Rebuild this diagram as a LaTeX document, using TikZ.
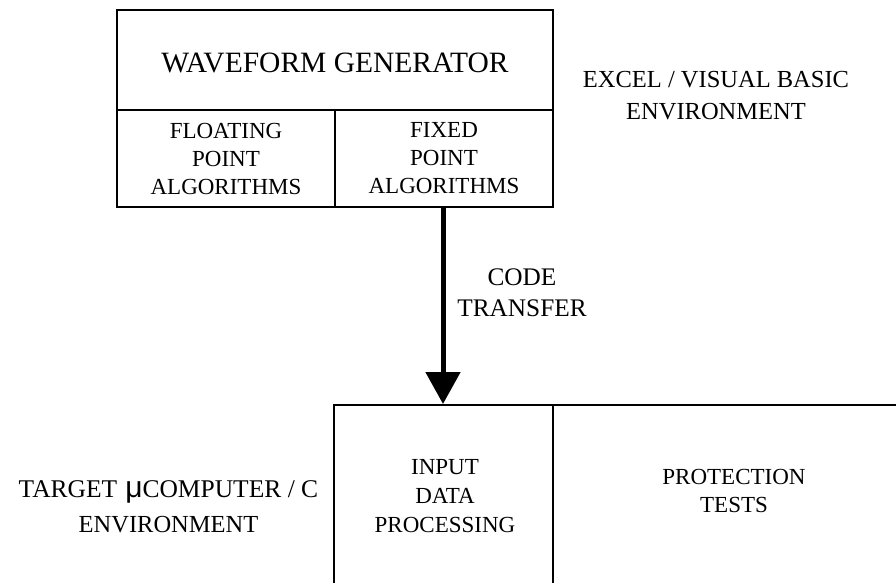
\documentclass[tikz,border=0pt]{standalone}
\usepackage{fontspec}
\setmainfont{Liberation Serif}
\newfontfamily\mufont{Liberation Sans}
\usetikzlibrary{arrows.meta}
\begin{document}
\begin{tikzpicture}[x=1pt,y=-1pt,
  box/.style={draw, line width=2pt, inner sep=0pt, rectangle},
  txt/.style={align=center, inner sep=0pt},
  small/.style={txt, font=\fontsize{23}{28}\selectfont},
]
\useasboundingbox (0,0) rectangle (896,583);
\clip (0,0) rectangle (896,583);

% upper block: generator with its two algorithm cells
\node[box, minimum width=436pt, minimum height=100pt] (gen) at (335,60) {};
\node[txt, font=\fontsize{29.5}{30}\selectfont] (gentxt) at (335,63) {WAVEFORM GENERATOR};
\node[box, small, minimum width=218pt, minimum height=97pt] (float) at (226,158.5)
  {FLOATING\\POINT\\ALGORITHMS};
\node[box, small, minimum width=218pt, minimum height=97pt] (fixed) at (444,158.5)
  {FIXED\\POINT\\ALGORITHMS};

\node[txt, font=\fontsize{24.5}{32}\selectfont] (excel) at (716,96)
  {EXCEL / VISUAL BASIC\\ENVIRONMENT};

% lower block: target processing cells (run off the page)
\node[box, minimum width=219pt, minimum height=182pt] (inp) at (443.5,496) {};
\node[box, minimum width=360pt, minimum height=182pt] (prot) at (733,496) {};
\node[txt, font=\fontsize{23}{29}\selectfont] (inptxt) at (445,496)
  {INPUT\\DATA\\PROCESSING};
\node[txt, font=\fontsize{23}{28}\selectfont] (prottxt) at (734,491)
  {PROTECTION\\TESTS};

\node[txt, font=\fontsize{25.5}{35}\selectfont] (target) at (168.5,507)
  {TARGET\hspace{8pt}{\mufont\fontsize{30}{30}\selectfont μ}COMPUTER / C\\{\fontsize{24.5}{35}\selectfont ENVIRONMENT}};

% code transfer arrow
\draw[line width=5pt, -{Triangle[length=32pt,width=34pt]}]
  (fixed.south -| 443,0) -- (inp.north -| 443,0);
\node[txt, font=\fontsize{25.3}{31}\selectfont] (xfer) at (522,292.5)
  {CODE\\TRANSFER};
\end{tikzpicture}
\end{document}
